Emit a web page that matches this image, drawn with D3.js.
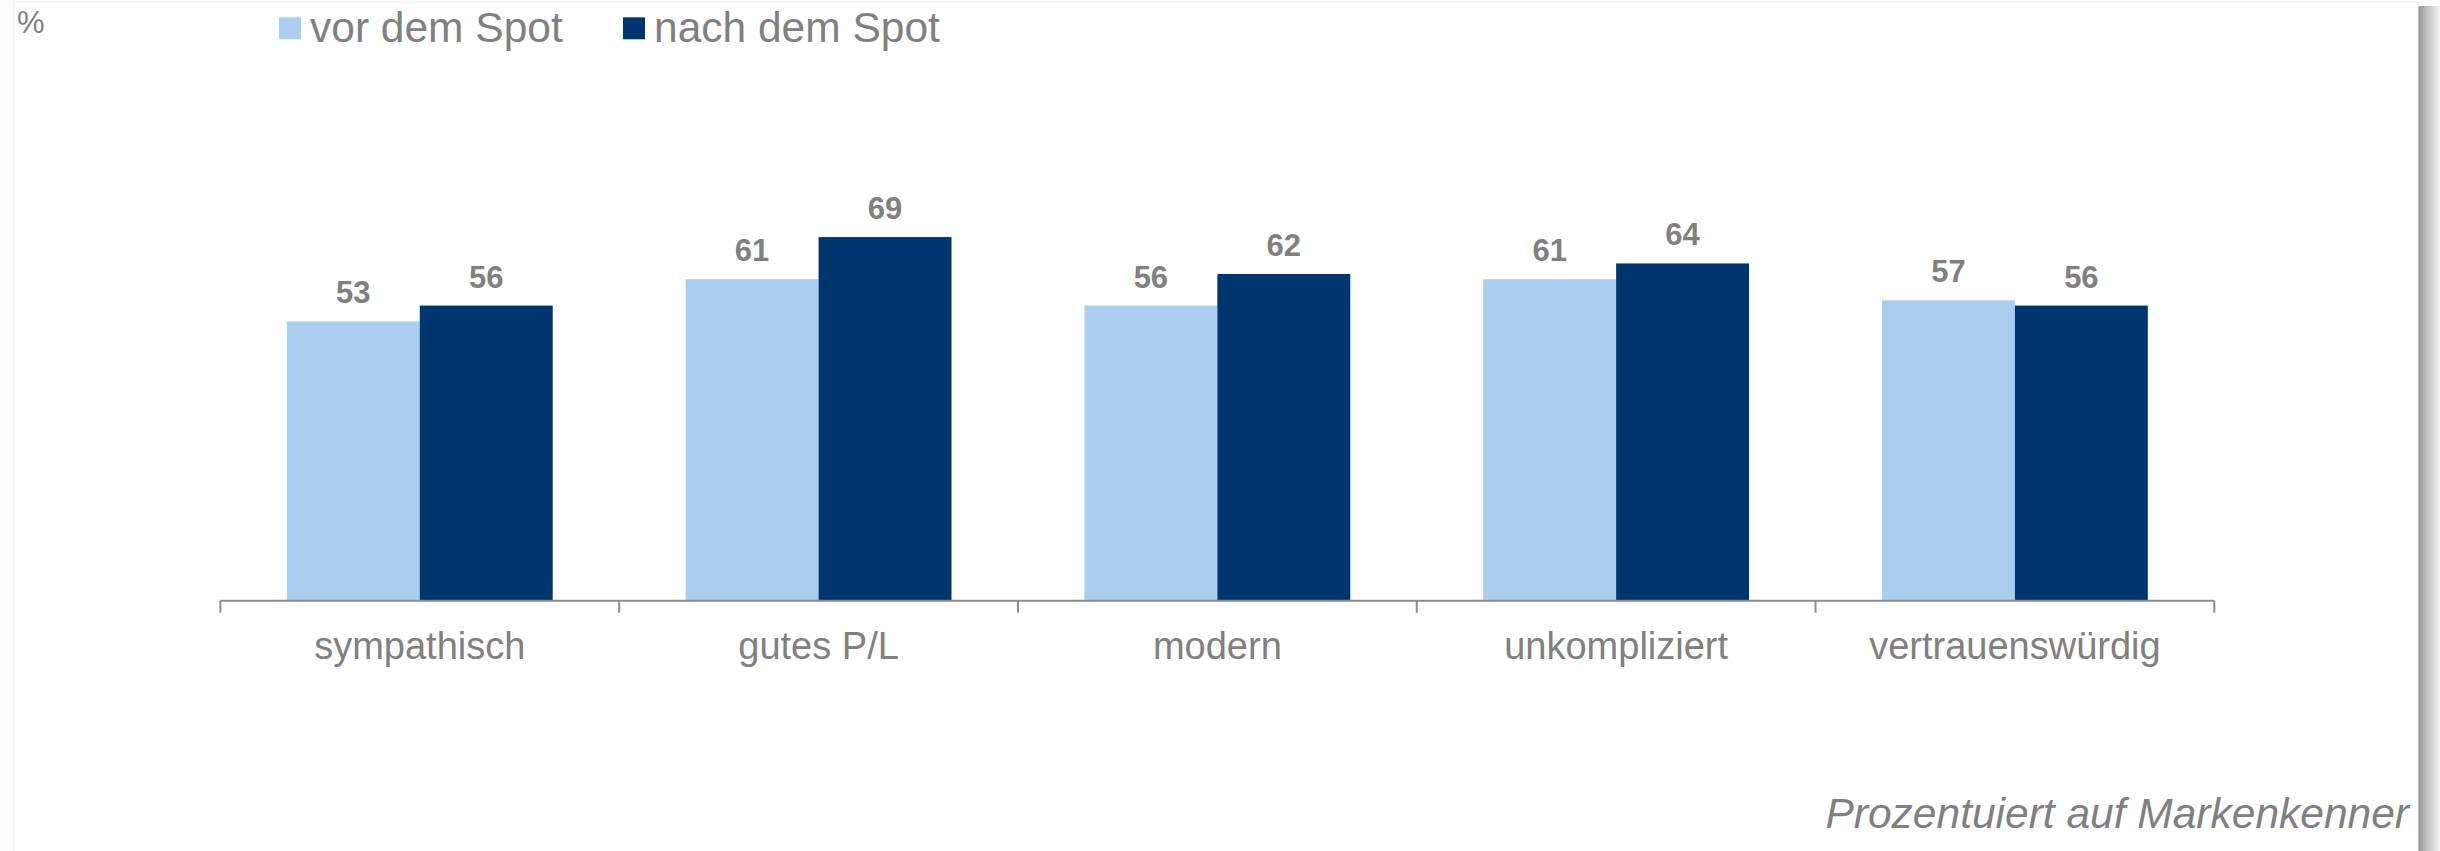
<!DOCTYPE html>
<html>
<head>
<meta charset="utf-8">
<script src="https://cdn.jsdelivr.net/npm/d3@7"></script>
<style>
  html, body { margin: 0; padding: 0; background: #fcfcfc; }
  svg { display: block; }
  text { font-family: Arial, "Liberation Sans", sans-serif; }
</style>
</head>
<body>
<svg id="chart" width="2440" height="851"></svg>
<script>
const categories = ["sympathisch", "gutes P/L", "modern", "unkompliziert", "vertrauenswürdig"];
const seriesNames = ["vor dem Spot", "nach dem Spot"];
const vorValues = [53, 61, 56, 61, 57];
const nachValues = [56, 69, 62, 64, 56];
const seriesColors = ["#abcdef", "#003670"];
const unitLabel = "%";
const footnote = "Prozentuiert auf Markenkenner";

const svg = d3.select("#chart");
const W = 2440, H = 851;

// slide background and shadow
const defs = svg.append("defs");
const grad = defs.append("linearGradient").attr("id", "shadow").attr("x1", 0).attr("x2", 1).attr("y1", 0).attr("y2", 0);
grad.append("stop").attr("offset", "0%").attr("stop-color", "#8f8f8f");
grad.append("stop").attr("offset", "45%").attr("stop-color", "#c4c4c4");
grad.append("stop").attr("offset", "100%").attr("stop-color", "#f6f6f6");
svg.append("rect").attr("x", 2418).attr("y", 6).attr("width", 22).attr("height", H - 6).attr("fill", "url(#shadow)");
svg.append("rect").attr("x", 14).attr("y", 2).attr("width", 2404).attr("height", H).attr("fill", "#ffffff")
  .attr("stroke", "#f0f0f0").attr("stroke-width", 1);

const axisLeft = 220.4, axisRight = 2214.3, baseY = 600.7, topY = 73.7;

const x0 = d3.scaleBand().domain(categories).range([axisLeft, axisRight]).paddingInner(0).paddingOuter(0);
const x1 = d3.scaleBand().domain(seriesNames).range([0, x0.bandwidth()]).paddingInner(0).paddingOuter(0.5);
const y = d3.scaleLinear().domain([0, 100]).range([baseY, topY]);

const data = categories.map((c, i) => ({ cat: c, vals: [vorValues[i], nachValues[i]] }));

const groups = svg.append("g").selectAll("g").data(data).join("g")
  .attr("transform", d => `translate(${x0(d.cat)},0)`);

groups.selectAll("rect").data(d => d.vals.map((v, j) => ({ v, s: seriesNames[j], j }))).join("rect")
  .attr("x", d => x1(d.s))
  .attr("y", d => y(d.v))
  .attr("width", x1.bandwidth())
  .attr("height", d => baseY - y(d.v))
  .attr("fill", d => seriesColors[d.j]);

groups.selectAll("text.val").data(d => d.vals.map((v, j) => ({ v, s: seriesNames[j], j }))).join("text")
  .attr("class", "val")
  .attr("x", d => x1(d.s) + x1.bandwidth() / 2)
  .attr("y", d => y(d.v) - 18)
  .attr("text-anchor", "middle")
  .attr("font-size", 31)
  .attr("font-weight", "bold")
  .attr("fill", "#808080")
  .text(d => d.v);

// x axis
const xAxis = d3.axisBottom(x0).tickSize(0).tickFormat(d => d);
const ax = svg.append("g").attr("transform", `translate(0,${baseY})`).call(xAxis);
ax.select(".domain").attr("stroke", "#8c8c8c").attr("stroke-width", 2).attr("d", `M${axisLeft},0H${axisRight}`);
ax.selectAll(".tick line").remove();
ax.selectAll(".tick text").attr("font-size", 38).attr("fill", "#808080").attr("dy", 0).attr("y", 58.5)
  .attr("font-family", "Arial, 'Liberation Sans', sans-serif");
// boundary ticks
const boundaries = categories.map(c => x0(c)).concat([x0(categories[categories.length - 1]) + x0.bandwidth()]);
ax.selectAll("line.bt").data(boundaries).join("line").attr("class", "bt")
  .attr("x1", d => d).attr("x2", d => d).attr("y1", 0).attr("y2", 12)
  .attr("stroke", "#8c8c8c").attr("stroke-width", 2);

// unit label
svg.append("text").attr("x", 17).attr("y", 33).attr("font-size", 31).attr("fill", "#808080").text(unitLabel);

// legend
const legendX = [279, 623];
const leg = svg.append("g").selectAll("g").data(seriesNames).join("g")
  .attr("transform", (d, i) => `translate(${legendX[i]},0)`);
leg.append("rect").attr("x", 0).attr("y", 17.3).attr("width", 22).attr("height", 22).attr("fill", (d, i) => seriesColors[i]);
leg.append("text").attr("x", 31).attr("y", 42.3).attr("font-size", 42.5).attr("fill", "#808080").text(d => d);

// footnote
svg.append("text").attr("x", 2409).attr("y", 828).attr("text-anchor", "end")
  .attr("font-size", 42.5).attr("font-style", "italic").attr("fill", "#808080").text(footnote);
</script>
</body>
</html>
